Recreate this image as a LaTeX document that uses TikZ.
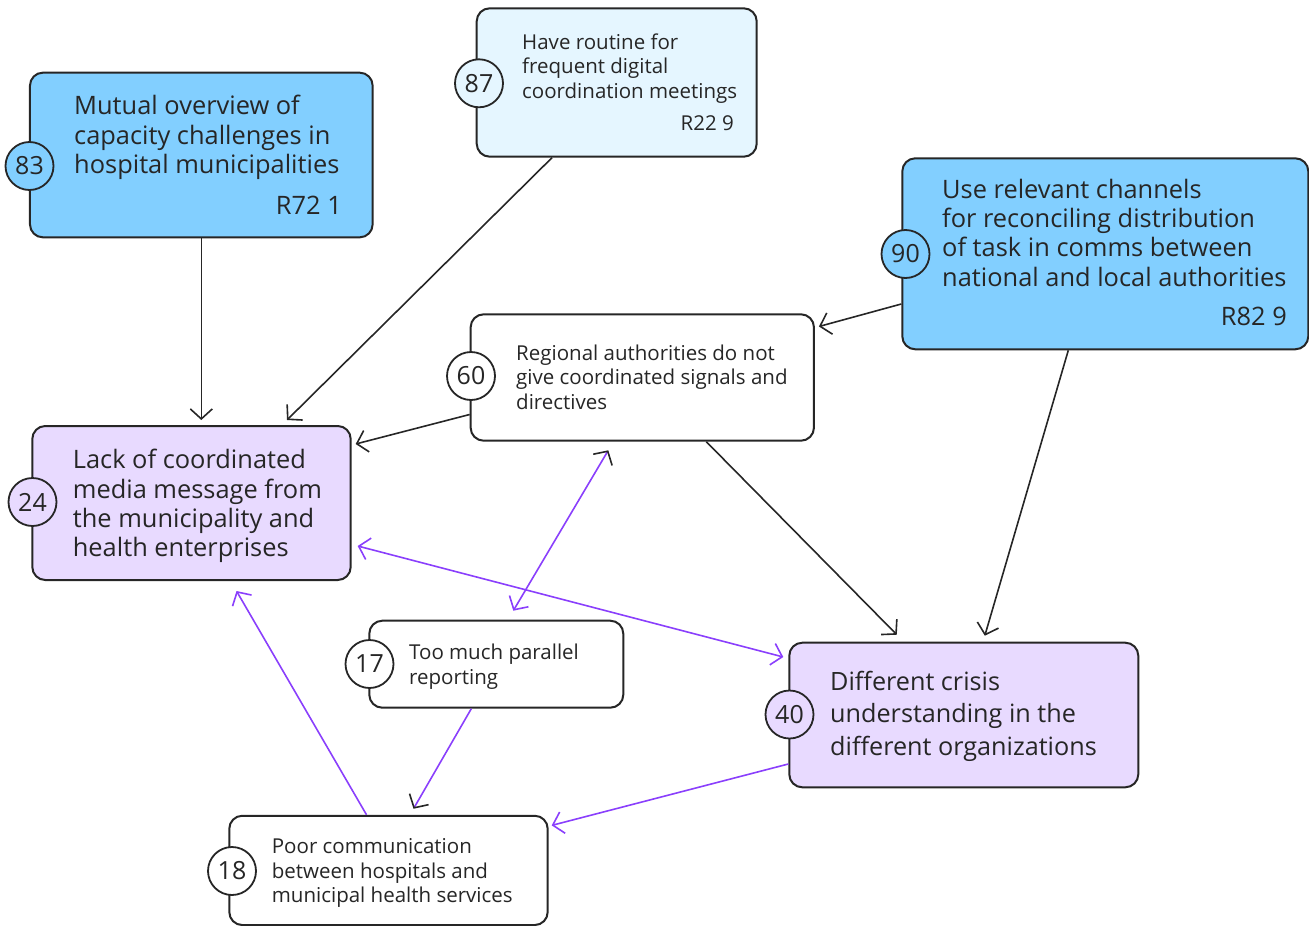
\documentclass[tikz,border=0pt]{standalone}
\usepackage{fontspec}
\setmainfont{Open Sans}
\usetikzlibrary{arrows.meta,calc}
\definecolor{ink}{HTML}{262626}
\definecolor{cyanA}{HTML}{82CFFF}
\definecolor{cyanB}{HTML}{E5F6FF}
\definecolor{lav}{HTML}{E8DAFF}
\definecolor{purp}{HTML}{8A3FFC}
\begin{document}
\begin{tikzpicture}[x=1pt,y=-1pt,
  box/.style={draw=ink, line width=2pt, rounded corners=13pt, inner sep=0pt},
  num/.style={circle, draw=ink, line width=1.8pt, minimum size=48pt, inner sep=0pt, text=ink, font=\fontsize{25}{25}\selectfont},
  txt/.style={inner sep=0pt, align=left, anchor=base west, text=ink},
  rlab/.style={inner sep=0pt, anchor=base east, text=ink},
  big/.style={font=\fontsize{25.4}{29.3}\selectfont},
  small/.style={font=\fontsize{20.5}{24.5}\selectfont},
  huge40/.style={font=\fontsize{25.2}{32.2}\selectfont},
  tipk/.style={-{Straight Barb[length=10pt,width=22pt]}},
  conn/.style={line width=1.6pt, draw=ink, tipk},
  pconn/.style={line width=1.6pt, draw=purp, tipk},
]
\useasboundingbox (0,0) rectangle (1309,926);

% boxes
\node[box, fill=cyanA, minimum width=342.7pt, minimum height=164.7pt] (b83) at (201.3,155) {};
\node[box, fill=cyanB, minimum width=280pt, minimum height=148.4pt] (b87) at (616.7,82.5) {};
\node[box, fill=cyanA, minimum width=406pt, minimum height=191pt] (b90) at (1105.3,253.8) {};
\node[box, fill=white, minimum width=343.3pt, minimum height=126.4pt] (b60) at (642.3,377.5) {};
\node[box, fill=lav, minimum width=318.4pt, minimum height=154pt] (b24) at (191.5,503) {};
\node[box, fill=white, minimum width=254pt, minimum height=87pt] (b17) at (496.3,664.2) {};
\node[box, fill=white, minimum width=318.4pt, minimum height=109.3pt] (b18) at (388.5,870.4) {};
\node[box, fill=lav, minimum width=349pt, minimum height=144.6pt] (b40) at (963.8,715) {};

% number circles
\node[num, fill=cyanA] (n83) at (29.5,166) {83};
\node[num, fill=cyanB] (n87) at (479,83.3) {87};
\node[num, fill=cyanA] (n90) at (905.5,254) {90};
\node[num, fill=white] (n60) at (471,376) {60};
\node[num, fill=lav] (n24) at (32.5,502) {24};
\node[num, fill=white] (n17) at (369.5,664) {17};
\node[num, fill=white] (n18) at (232,871) {18};
\node[num, fill=lav] (n40) at (789.5,714.5) {40};

% texts (anchor = baseline of last line)
\node[txt, big] (t83) at (74,173.5) {Mutual overview of\\capacity challenges in\\hospital municipalities};
\node[rlab, big] (r83) at (342,214) {R72 1};
\node[txt, small] (t87) at (522,98.3) {Have routine for\\frequent digital\\coordination meetings};
\node[rlab, small] (r87) at (734,130) {R22 9};
\node[txt, big] (t90) at (942,286) {Use relevant channels\\for reconciling distribution\\of task in comms between\\national and local authorities};
\node[rlab, big] (r90) at (1287,325.7) {R82 9};
\node[txt, small] (t60) at (516,409) {Regional authorities do not\\give coordinated signals and\\directives};
\node[txt, big] (t24) at (72.7,556.7) {Lack of coordinated\\media message from\\the municipality and\\health enterprises};
\node[txt, small] (t17) at (409,684) {Too much parallel\\reporting};
\node[txt, small] (t18) at (271.7,902.7) {Poor communication\\between hospitals and\\municipal health services};
\node[txt, huge40] (t40) at (830,755) {Different crisis\\understanding in the\\different organizations};

% connectors
\draw[conn] (b83.south) -- ($(b24.north)+(9.8,-5)$);
\draw[conn] ($(b87.south)+(-64.7,0)$) -- ($(b24.north)+(95.5,-5)$);
\draw[conn] ($(b90.west)+(0,50.2)$) -- ($(b60.east)+(4,-51)$);
\draw[conn] ($(b60.west)+(0,37)$) -- ($(b24.east)+(4,-59)$);
\draw[conn] ($(b60.south)+(64,0)$) -- ($(b40.north)+(-67,-7)$);
\draw[conn] ($(b90.south)+(-37,0)$) -- ($(b40.north)+(21,-6)$);
\draw[line width=1.6pt, draw=purp, {Straight Barb[length=10pt,width=22pt]}-{Straight Barb[length=10pt,width=22pt]}] ($(b24.east)+(6,43)$) -- ($(b40.west)+(-5,-58)$);
\draw[line width=1.6pt, draw=purp, {Straight Barb[length=10pt,width=22pt,color=ink]}-{Straight Barb[length=10pt,width=22pt]}] ($(b60.south)+(-34,8.6)$) -- ($(b17.north)+(17,-9)$);
\draw[line width=1.6pt, draw=purp, -{Straight Barb[length=10pt,width=22pt,color=ink]}] ($(b17.south)+(-25,0)$) -- ($(b18.north)+(25,-6)$);
\draw[pconn] ($(b40.west)+(0,49)$) -- ($(b18.east)+(3,-45)$);
\draw[pconn] ($(b18.north)+(-22,0)$) -- ($(b24.south)+(45,10)$);
\end{tikzpicture}
\end{document}
